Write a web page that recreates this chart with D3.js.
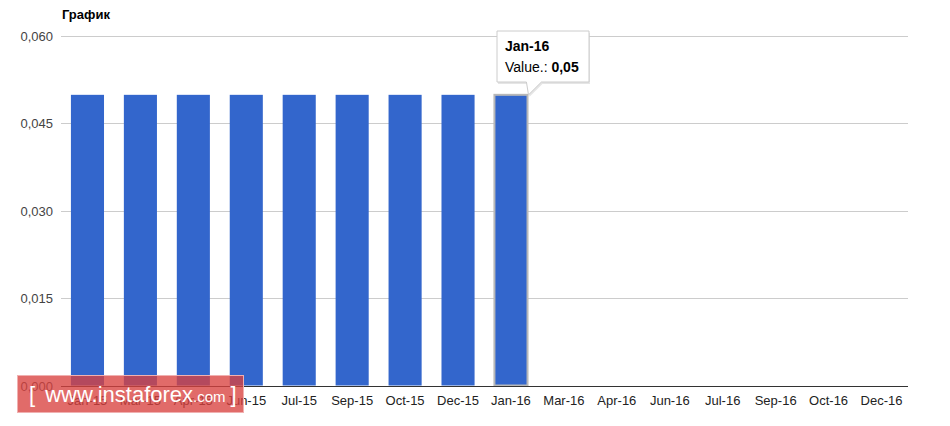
<!DOCTYPE html>
<html><head><meta charset="utf-8">
<script src="https://cdn.jsdelivr.net/npm/d3@7"></script>
<style>body{margin:0;background:#fff;}svg{display:block;font-family:Arial,"Liberation Sans",sans-serif;}</style>
</head><body>
<script>
const categories = ["Jan-15","Mar-15","Apr-15","Jun-15","Jul-15","Sep-15","Oct-15","Dec-15","Jan-16","Mar-16","Apr-16","Jun-16","Jul-16","Sep-16","Oct-16","Dec-16"];
const values = [0.05,0.05,0.05,0.05,0.05,0.05,0.05,0.05,0.05,null,null,null,null,null,null,null];
const yTicks = [0,0.015,0.03,0.045,0.06];
const title = "График";
const highlighted = "Jan-16";

const W=950,H=426;
const m={left:61,right:42,top:35.5,bottom:40.5};
const svg=d3.select("body").append("svg").attr("width",W).attr("height",H);
const x=d3.scaleBand().domain(categories).range([m.left,W-m.right]).paddingInner(0.375).paddingOuter(0.1875);
const y=d3.scaleLinear().domain([0,0.06]).range([H-m.bottom,m.top]);
const fmt=d=>d3.format(".3f")(d).replace(".",",");

// gridlines
svg.append("g").selectAll("line").data(yTicks.filter(d=>d>0)).join("line")
 .attr("x1",m.left).attr("x2",W-m.right).attr("y1",d=>Math.round(y(d))+0.5).attr("y2",d=>Math.round(y(d))+0.5)
 .attr("stroke","#cccccc");
// y labels
svg.append("g").selectAll("text").data(yTicks).join("text")
 .attr("x",53).attr("y",d=>Math.round(y(d))+5).attr("text-anchor","end")
 .attr("font-size",13).attr("fill","#444").text(fmt);
// bars
svg.append("g").selectAll("rect").data(categories.map((c,i)=>({c,v:values[i]})).filter(d=>d.v!=null)).join("rect")
 .attr("x",d=>x(d.c)).attr("width",x.bandwidth())
 .attr("y",d=>y(d.v)+1).attr("height",d=>y(0)-y(d.v)-1)
 .attr("fill","#3366cc")
 .attr("stroke",d=>d.c===highlighted?"#b8b8b8":"none").attr("stroke-width",2);
// baseline
svg.append("line").attr("x1",m.left).attr("x2",W-m.right).attr("y1",Math.round(y(0))+0.5).attr("y2",Math.round(y(0))+0.5).attr("stroke","#333");
// x labels
svg.append("g").selectAll("text").data(categories).join("text")
 .attr("x",d=>x(d)+x.bandwidth()/2).attr("y",405).attr("text-anchor","middle")
 .attr("font-size",13).attr("fill","#222").text(d=>d);
// title
svg.append("text").attr("x",62).attr("y",19).attr("font-size",13).attr("font-weight","bold").attr("fill","#000").text(title);

// tooltip
const hi=values[categories.indexOf(highlighted)];
const bx=x(highlighted), by=y(hi)+1;
const tx=497, ty=31, tw=92, th=51;
const tip=svg.append("g");
const path=`M${tx},${ty} H${tx+tw} V${ty+th} H${bx+47} L${bx+x.bandwidth()+1},${by} L${bx+32},${ty+th} H${tx} Z`;
tip.append("path").attr("d",path).attr("fill","#ccc").attr("opacity",0.5).attr("transform","translate(1,2)");
tip.append("path").attr("d",path).attr("fill","#fff").attr("stroke","#cccccc").attr("stroke-width",1);
tip.append("text").attr("x",tx+8).attr("y",ty+20).attr("font-size",14).attr("font-weight","bold").attr("fill","#000").text(highlighted);
const t2=tip.append("text").attr("x",tx+8).attr("y",ty+41).attr("font-size",14).attr("fill","#000");
t2.append("tspan").text("Value.: ");
t2.append("tspan").attr("font-weight","bold").text(String(hi).replace(".",","));

// watermark
const wm=svg.append("g");
wm.append("rect").attr("x",17.5).attr("y",375.5).attr("width",226).attr("height",37).attr("fill","#d9413f").attr("fill-opacity",0.78).attr("stroke","#f0b0b0");
const wt=wm.append("text").attr("x",29).attr("y",402).attr("fill","#fff");
wt.append("tspan").attr("font-size",22).text("[");
wt.append("tspan").attr("font-size",22).attr("dx",10).text("www.instaforex");
wt.append("tspan").attr("font-size",15).text(".com");
wt.append("tspan").attr("font-size",22).attr("dx",5).text("]");
</script>
</body></html>
